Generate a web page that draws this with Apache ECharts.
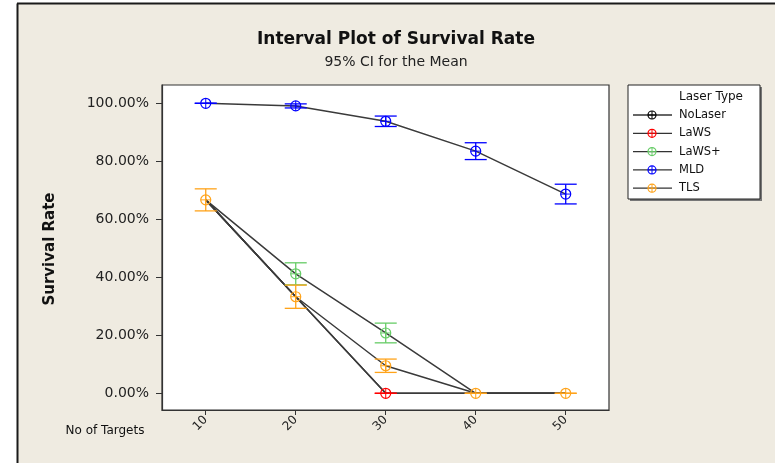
<!DOCTYPE html>
<html>
<head>
<meta charset="utf-8">
<script src="https://cdn.jsdelivr.net/npm/echarts@6/dist/echarts.min.js"></script>
<style>
html,body{margin:0;padding:0;background:#fff;}
#c{width:775px;height:463px;}
</style>
</head>
<body>
<div id="c"></div>
<script>
// ---- data ----
const targets = [10, 20, 30, 40, 50];
const xTicks = [10, 20, 30, 40, 50];
const yTicks = [0, 20, 40, 60, 80, 100];
const laserTypes = ['NoLaser', 'LaWS', 'LaWS+', 'MLD', 'TLS'];
const noLaserMean = [66.7, 33.3, 0, 0, 0];
const noLaserCI   = [3.8, 4.0, 0, 0, 0];
const lawsMean    = [66.7, 33.3, 0, 0, 0];
const lawsCI      = [3.8, 4.0, 0, 0, 0];
const lawsPlusMean = [66.7, 41.2, 20.8, 0, 0];
const lawsPlusCI   = [3.8, 3.8, 3.4, 0, 0];
const mldMean     = [100, 99.1, 93.8, 83.5, 68.7];
const mldCI       = [0, 0.7, 1.8, 2.9, 3.4];
const tlsMean     = [66.7, 33.3, 9.5, 0, 0];
const tlsCI       = [3.8, 4.0, 2.3, 0, 0];
const colors = ['#000000', '#ff0000', '#66cc66', '#0000ff', '#ffa31a'];

const means = [noLaserMean, lawsMean, lawsPlusMean, mldMean, tlsMean];
const cis = [noLaserCI, lawsCI, lawsPlusCI, mldCI, tlsCI];

// a point is hidden when a later-drawn series sits exactly on top of it
function covered(i, k) {
  for (let j = i + 1; j < means.length; j++) {
    if (means[j][k] === means[i][k] && cis[j][k] === cis[i][k]) return true;
  }
  return false;
}

const FONT = 'DejaVu Sans';
const chart = echarts.init(document.getElementById('c'), null, {renderer: 'canvas'});

function markerShapes(cx, cy, r, color) {
  return [
    {type: 'circle', shape: {cx: cx, cy: cy, r: r}, style: {fill: 'none', stroke: color, lineWidth: 1.2}},
    {type: 'line', shape: {x1: cx - r, y1: cy, x2: cx + r, y2: cy}, style: {stroke: color, lineWidth: 1}},
    {type: 'line', shape: {x1: cx, y1: cy - r, x2: cx, y2: cy + r}, style: {stroke: color, lineWidth: 1}}
  ];
}

const series = [];
// connecting lines
laserTypes.forEach((name, i) => {
  series.push({
    type: 'line', name: name + '-line',
    data: targets.map((t, k) => [t, means[i][k]]),
    symbol: 'none', lineStyle: {color: '#3a3a3a', width: 1.5}, z: 2, silent: true, animation: false
  });
});
// interval bars + markers
laserTypes.forEach((name, i) => {
  const color = colors[i];
  series.push({
    type: 'custom', name: name,
    data: targets.map((t, k) => [t, means[i][k], cis[i][k]]),
    z: 3, animation: false, silent: true,
    renderItem: function (params, api) {
      if (covered(i, params.dataIndex)) return null;
      const x = api.value(0), m = api.value(1), ci = api.value(2);
      const p = api.coord([x, m]);
      const top = api.coord([x, m + ci])[1];
      const bot = api.coord([x, m - ci])[1];
      const hw = 11;
      const st = {stroke: color, lineWidth: 1.3};
      return {
        type: 'group',
        children: [
          {type: 'line', shape: {x1: p[0], y1: top, x2: p[0], y2: bot}, style: st},
          {type: 'line', shape: {x1: p[0] - hw, y1: top, x2: p[0] + hw, y2: top}, style: st},
          {type: 'line', shape: {x1: p[0] - hw, y1: bot, x2: p[0] + hw, y2: bot}, style: st}
        ].concat(markerShapes(p[0], p[1], 5, color))
      };
    }
  });
});

// legend graphic
const legend = [];
const lx = 628, ly = 85, lw = 132, lh = 114;
legend.push({type: 'rect', shape: {x: lx + 2, y: ly + 2, width: lw, height: lh}, style: {fill: '#777'}});
legend.push({type: 'rect', shape: {x: lx, y: ly, width: lw, height: lh}, style: {fill: '#fff', stroke: '#222', lineWidth: 1}});
legend.push({type: 'text', x: 711, y: 97, style: {text: 'Laser Type', font: '12px "' + FONT + '"', fill: '#111', align: 'center', verticalAlign: 'middle'}});
laserTypes.forEach((name, i) => {
  const y = 115 + i * 18.3;
  legend.push({type: 'line', shape: {x1: 633, y1: y, x2: 672, y2: y}, style: {stroke: '#333', lineWidth: 1.3}});
  markerShapes(652, y, 4, colors[i]).forEach(s => legend.push(s));
  legend.push({type: 'text', x: 679, y: y, style: {text: name, font: '11.5px "' + FONT + '"', fill: '#111', align: 'left', verticalAlign: 'middle'}});
});

const option = {
  backgroundColor: '#efebe1',
  animation: false,
  grid: {left: 162, top: 85, width: 447, height: 325, show: true, backgroundColor: '#ffffff', borderColor: '#333', borderWidth: 1.2},
  xAxis: {
    type: 'value', min: 5.14, max: 54.81,
    splitLine: {show: false},
    axisLine: {show: true, onZero: false, lineStyle: {color: '#333', width: 1.2}},
    axisTick: {show: true, length: 5, inside: false, lineStyle: {color: '#333'}, customValues: xTicks},
    axisLabel: {customValues: xTicks, rotate: 45, margin: 8, fontFamily: FONT, fontSize: 12, color: '#222'}
  },
  yAxis: {
    type: 'value', min: -5.76, max: 106.31,
    splitLine: {show: false},
    axisLine: {show: true, onZero: false, lineStyle: {color: '#333', width: 1.2}},
    axisTick: {show: true, length: 6, lineStyle: {color: '#333'}, customValues: yTicks},
    axisLabel: {customValues: yTicks, margin: 13, fontFamily: FONT, fontSize: 14, color: '#222',
      formatter: v => v.toFixed(2) + '%'}
  },
  graphic: [
    {type: 'rect', shape: {x: 0, y: 0, width: 17, height: 463}, style: {fill: '#ffffff'}, z: 0},
    {type: 'rect', shape: {x: 0, y: 0, width: 775, height: 3}, style: {fill: '#ffffff'}, z: 0},
    {type: 'line', shape: {x1: 17.5, y1: 3.5, x2: 17.5, y2: 463}, style: {stroke: '#1a1a1a', lineWidth: 2}},
    {type: 'line', shape: {x1: 17, y1: 3.5, x2: 775, y2: 3.5}, style: {stroke: '#1a1a1a', lineWidth: 2}},
    {type: 'text', x: 396, y: 40, style: {text: 'Interval Plot of Survival Rate', font: 'bold 17px "' + FONT + '"', fill: '#111', align: 'center', verticalAlign: 'middle'}},
    {type: 'text', x: 396, y: 62, style: {text: '95% CI for the Mean', font: '14px "' + FONT + '"', fill: '#222', align: 'center', verticalAlign: 'middle'}},
    {type: 'text', x: 50, y: 249, rotation: Math.PI / 2, style: {text: 'Survival Rate', font: 'bold 15px "' + FONT + '"', fill: '#111', align: 'center', verticalAlign: 'middle'}},
    {type: 'text', x: 105, y: 431, style: {text: 'No of Targets', font: '12px "' + FONT + '"', fill: '#111', align: 'center', verticalAlign: 'middle'}}
  ].concat(legend),
  series: series
};
chart.setOption(option);
</script>
</body>
</html>
